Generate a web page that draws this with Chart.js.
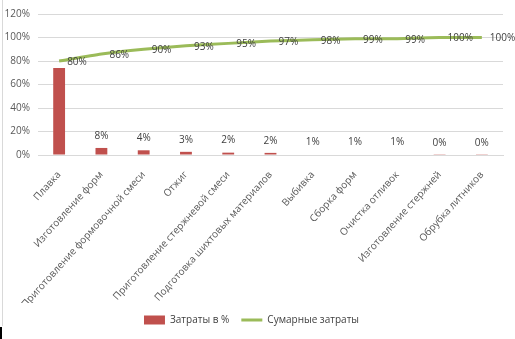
<!DOCTYPE html>
<html>
<head>
<meta charset="utf-8">
<script src="https://cdn.jsdelivr.net/npm/chart.js"></script>
<style>
  html, body { margin: 0; padding: 0; background: #fff; }
  #wrap { position: relative; width: 515px; height: 339px; }
  #wrap:before { content: ''; position: absolute; left: 2px; top: 0; height: 326px; border-left: 1px solid #d9d9d9; }
  #wrap:after { content: ''; position: absolute; left: 0; top: 327px; height: 12px; border-left: 2px solid #000; }
</style>
</head>
<body>
<div id="wrap"><canvas id="paretoChart" width="515" height="339"></canvas></div>
<script>
// categories and values
const categories = ['Плавка', 'Изготовление форм', 'Приготовление формовочной смеси', 'Отжиг',
  'Приготовление стержневой смеси', 'Подготовка шихтовых материалов', 'Выбивка', 'Сборка форм',
  'Очистка отливок', 'Изготовление стержней', 'Обрубка литников'];
const costShare = [74, 6, 4, 2.7, 2, 1.8, 0.4, 0.4, 0.4, 0.2, 0.2];
const costLabels = ['', '8%', '4%', '3%', '2%', '2%', '1%', '1%', '1%', '0%', '0%'];
const cumulative = [80, 86, 90, 93, 95, 97, 98, 99, 99, 100, 100];
const yTicks = [0, 20, 40, 60, 80, 100, 120];

const labelFont = '10px "Open Sans", "Liberation Sans", sans-serif';

// draws the value labels like the excel sheet does
const valueLabels = {
  id: 'valueLabels',
  afterDatasetsDraw(chart) {
    const ctx = chart.ctx;
    ctx.save();
    ctx.font = labelFont;
    ctx.fillStyle = '#404040';
    ctx.textBaseline = 'middle';
    chart.getDatasetMeta(0).data.forEach((bar, i) => {
      ctx.textAlign = 'center';
      ctx.fillText(costLabels[i], bar.x, bar.y - 12);
    });
    chart.getDatasetMeta(1).data.forEach((pt, i) => {
      ctx.textAlign = 'left';
      ctx.fillText(cumulative[i] + '%', pt.x + 8, pt.y + 1);
    });
    ctx.restore();
  }
};

const ctx = document.getElementById('paretoChart').getContext('2d');
new Chart(ctx, {
  data: {
    labels: categories,
    datasets: [{
      type: 'bar',
      label: 'Затраты в %',
      data: costShare,
      backgroundColor: '#c0504d',
      barPercentage: 0.56,
      categoryPercentage: 0.5,
      pointStyle: 'rect',
      order: 2
    }, {
      type: 'line',
      label: 'Сумарные затраты',
      data: cumulative,
      borderColor: '#9bbb59',
      backgroundColor: '#9bbb59',
      borderWidth: 3,
      pointRadius: 0,
      tension: 0.2,
      pointStyle: 'line',
      order: 1
    }]
  },
  options: {
    responsive: false,
    animation: false,
    layout: { padding: { top: 7, right: 12, left: 0, bottom: 4 } },
    plugins: {
      tooltip: { enabled: false },
      legend: {
        position: 'bottom',
        labels: {
          usePointStyle: true,
          pointStyleWidth: 21,
          boxHeight: 9,
          padding: 12,
          color: '#404040',
          font: { size: 10, family: '"Open Sans", "Liberation Sans", sans-serif' },
          sort: (a, b) => a.datasetIndex - b.datasetIndex
        }
      }
    },
    scales: {
      x: {
        grid: { display: false },
        border: { color: '#d9d9d9' },
        ticks: {
          minRotation: 48, maxRotation: 48, autoSkip: false,
          color: '#595959', padding: 6,
          font: { size: 10, family: '"Open Sans", "Liberation Sans", sans-serif' }
        },
        afterFit(s) { s.height = 148; }
      },
      y: {
        min: 0, max: 120,
        afterBuildTicks(s) { s.ticks = yTicks.map(v => ({ value: v })); },
        grid: { color: '#d9d9d9', drawTicks: false },
        border: { display: false },
        ticks: {
          padding: 8, color: '#595959',
          font: { size: 10, family: '"Open Sans", "Liberation Sans", sans-serif' },
          callback: v => v + '%'
        },
        afterFit(s) { s.width = 38; }
      }
    }
  },
  plugins: [valueLabels]
});
</script>
</body>
</html>
